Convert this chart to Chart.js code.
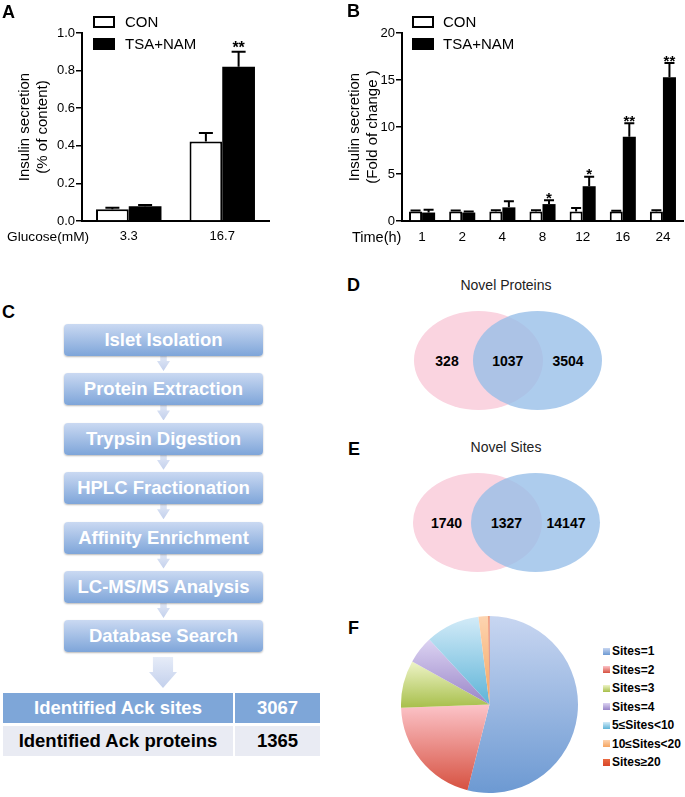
<!doctype html>
<html>
<head>
<meta charset="utf-8">
<title>Insulin secretion · acetylome</title>
<script src="https://cdn.jsdelivr.net/npm/chart.js@4.4.1/dist/chart.umd.min.js"></script>
<style>
  body { margin:0; background:#fff; font-family:"Liberation Sans", Arial, Helvetica, sans-serif; color:#000; }
  #fig { position:relative; width:685px; height:797px; overflow:hidden; }
  #fig > * { position:absolute; }
  .tag { font-weight:bold; font-size:18px; line-height:18px; }
  .swatch { box-sizing:border-box; width:22px; height:12px; border:2px solid #000; }
  .flow { box-sizing:border-box; width:199px; height:32px; border-radius:4px; color:#fff; font-weight:bold;
          font-size:18.5px; line-height:32px; text-align:center; white-space:nowrap;
          background:linear-gradient(#cad9f2, #7ea5d9); box-shadow:0 1px 2px rgba(0,0,0,.28); z-index:2; }
  .mini { width:13px; height:18px; background:linear-gradient(#e6ecf8, #c3d0ec); z-index:1;
          clip-path:polygon(25% 0, 75% 0, 75% 45%, 100% 45%, 50% 100%, 0 45%, 25% 45%); }
  .cell { box-sizing:border-box; height:30px; line-height:30px; text-align:center; font-weight:bold; font-size:18.5px; white-space:nowrap; }
  .ell { border-radius:50%; }
  .num { width:80px; text-align:center; font-weight:bold; font-size:14px; line-height:20px; }
</style>
</head>
<body>
<div id="fig">
  <canvas id="chartA" width="290" height="262" style="left:0;top:0"></canvas>
  <canvas id="chartB" width="355" height="262" style="left:330px;top:0"></canvas>
  <canvas id="chartF" width="177" height="177" style="left:401px;top:616px"></canvas>
</div>
<script>
// panel A: glucose stimulated insulin secretion
const glucoseLabels = ['3.3', '16.7'];
const conA = [0.063, 0.423];
const conAErr = [0.007, 0.045];
const tsaA = [0.078, 0.82];
const tsaAErr = [0.007, 0.08];
const starsA = ['', '**'];

// panel B: time course (fold of change)
const timeLabels = ['1', '2', '4', '8', '12', '16', '24'];
const conB = [1.0, 1.0, 1.0, 1.0, 1.0, 1.0, 1.0];
const conBErr = [0.12, 0.12, 0.15, 0.15, 0.38, 0.1, 0.15];
const tsaB = [0.9, 0.9, 1.45, 1.8, 3.7, 8.95, 15.3];
const tsaBErr = [0.3, 0.1, 0.65, 0.4, 1.0, 1.45, 1.5];
const starsB = ['', '', '', '*', '*', '**', '**'];

// panel C: workflow
const flowSteps = ['Islet Isolation', 'Protein Extraction', 'Trypsin Digestion', 'HPLC Fractionation',
                   'Affinity Enrichment', 'LC-MS/MS Analysis', 'Database Search'];
const tableNames = ['Identified Ack sites', 'Identified Ack proteins'];
const tableCounts = [3067, 1365];

// panels D, E: overlap with known data
const vennTitles = ['Novel Proteins', 'Novel Sites'];
const vennOnlyOurs = [328, 1740];
const vennShared = [1037, 1327];
const vennOnlyKnown = [3504, 14147];

// panel F: sites per protein (%)
const siteLabels = ['Sites=1', 'Sites=2', 'Sites=3', 'Sites=4', '5≤Sites<10', '10≤Sites<20', 'Sites≥20'];
const siteShares = [54.0, 20.4, 8.7, 5.0, 9.9, 1.8, 0.2];
const siteColors = [['#c8d6f1', '#6c99d2'], ['#fcc4c9', '#d6503f'], ['#eef4c8', '#a6be48'], ['#dcd3f2', '#9884c7'],
                    ['#d3ebf8', '#5cb3d7'], ['#fdd4b0', '#f5a460'], ['#ea6a40', '#d8452a']];

Chart.defaults.font.family = '"Liberation Sans", Arial, Helvetica, sans-serif';
Chart.defaults.color = '#000';

const fig = document.getElementById('fig');
function put(html, css, cls) {
  const d = document.createElement('div');
  if (cls) d.className = cls;
  d.innerHTML = html;
  Object.assign(d.style, css);
  fig.appendChild(d);
  return d;
}
const px = v => v + 'px';

// error bars + significance stars, drawn from the y scale
const errorBars = {
  id: 'errorBars',
  afterDatasetsDraw(chart, args, opts) {
    const { ctx } = chart;
    const y = chart.scales.y;
    chart.data.datasets.forEach((ds, i) => {
      chart.getDatasetMeta(i).data.forEach((bar, j) => {
        const top = y.getPixelForValue(ds.data[j] + ds.errors[j]);
        ctx.save();
        ctx.strokeStyle = '#000';
        ctx.lineWidth = 2;
        ctx.beginPath();
        ctx.moveTo(bar.x, bar.y);
        ctx.lineTo(bar.x, top);
        ctx.moveTo(bar.x - opts.cap / 2, top);
        ctx.lineTo(bar.x + opts.cap / 2, top);
        ctx.stroke();
        if (ds.stars && ds.stars[j]) {
          ctx.fillStyle = '#000';
          ctx.font = 'bold ' + opts.fs + 'px ' + Chart.defaults.font.family;
          ctx.textAlign = 'center';
          ctx.textBaseline = 'alphabetic';
          ctx.fillText(ds.stars[j], bar.x, top - opts.gap + 0.575 * opts.fs);
        }
        ctx.restore();
      });
    });
  }
};

function barChart(id, labels, con, conErr, tsa, tsaErr, stars, cfg) {
  return new Chart(document.getElementById(id), {
    type: 'bar',
    data: {
      labels,
      datasets: [
        { label: 'CON', data: con, errors: conErr, backgroundColor: '#fff', borderColor: '#000', borderWidth: 2 },
        { label: 'TSA+NAM', data: tsa, errors: tsaErr, stars, backgroundColor: '#000', borderWidth: 0 }
      ]
    },
    options: {
      responsive: false,
      animation: false,
      layout: { padding: { top: 33, right: cfg.right, left: 0, bottom: 0 } },
      datasets: { bar: { categoryPercentage: cfg.cat, barPercentage: 1 } },
      plugins: { legend: { display: false }, tooltip: { enabled: false },
                 errorBars: { cap: cfg.cap, gap: cfg.gap, fs: cfg.sfs } },
      scales: {
        x: {
          grid: { display: false, drawTicks: false },
          border: { color: '#000', width: 2 },
          ticks: { font: { size: cfg.xfs }, padding: 8 },
          afterFit: s => { s.height = 41; }
        },
        y: {
          min: 0, max: cfg.max,
          ticks: { stepSize: cfg.step, font: { size: 13 }, padding: 1, callback: cfg.fmt },
          grid: { drawOnChartArea: false, tickLength: 6, color: '#000', lineWidth: 1.5 },
          border: { color: '#000', width: 2 },
          title: { display: true, text: cfg.title, font: { size: 15, lineHeight: 1.2 }, padding: { top: 16, bottom: 0 } },
          afterFit: s => { s.width = cfg.yw; }
        }
      }
    },
    plugins: [errorBars]
  });
}

barChart('chartA', glucoseLabels, conA, conAErr, tsaA, tsaAErr, starsA, {
  right: 21, cat: 0.7, cap: 14, gap: 8.5, sfs: 16, xfs: 13, max: 1, step: 0.2, yw: 82,
  fmt: v => v.toFixed(1), title: ['Insulin secretion', '(% of content)']
});
barChart('chartB', timeLabels, conB, conBErr, tsaB, tsaBErr, starsB, {
  right: 2, cat: 0.65, cap: 10, gap: 6, sfs: 15, xfs: 13.5, max: 20, step: 5, yw: 72,
  fmt: v => v, title: ['Insulin secretion', '(Fold of change )']
});

// legends + axis captions for A and B
[[93, 125], [412, 443]].forEach(([bx, tx]) => {
  put('', { left: px(bx), top: px(16), background: '#fff' }, 'swatch');
  put('', { left: px(bx), top: px(38), background: '#000' }, 'swatch');
  put('CON', { left: px(tx), top: px(12), fontSize: '15px', lineHeight: '20px' });
  put('TSA+NAM', { left: px(tx), top: px(34), fontSize: '15px', lineHeight: '20px' });
});
put('Glucose(mM)', { left: '7px', top: '228px', fontSize: '13.7px', lineHeight: '18px' });
put('Time(h)', { left: '352px', top: '228px', fontSize: '14.5px', lineHeight: '18px' });

// panel tags
[['A', 2, 3], ['B', 347, 2], ['C', 2, 303], ['D', 347, 276], ['E', 348, 440], ['F', 348, 619]]
  .forEach(([t, x, y]) => put(t, { left: px(x), top: px(y) }, 'tag'));

// panel C flow
flowSteps.forEach((s, i) => {
  const top = 324 + i * 49.4;
  put(s, { left: '64px', top: px(top) }, 'flow');
  if (i < flowSteps.length - 1) put('', { left: '157px', top: px(top + 29) }, 'mini');
});
put('', { left: '149px', top: '657px', width: '28px', height: '31px', background: 'linear-gradient(#e6ecf8, #c3d0ec)',
  clipPath: 'polygon(14% 0, 86% 0, 86% 48%, 100% 48%, 50% 100%, 0 48%, 14% 48%)' });
tableNames.forEach((n, i) => {
  const top = 693 + i * 33;
  const bg = i === 0 ? '#7ea6d8' : '#e9ebf3';
  const fg = i === 0 ? '#fff' : '#000';
  put(n, { left: '3px', top: px(top), width: '230px', background: bg, color: fg }, 'cell');
  put(String(tableCounts[i]), { left: '235px', top: px(top), width: '85px', background: bg, color: fg }, 'cell');
});

// panels D and E venns
[{ cy: 360, ty: 285, xs: [478, 537.5] }, { cy: 522, ty: 447, xs: [477.5, 535.5] }].forEach((g, i) => {
  put(vennTitles[i], { left: '406px', width: '200px', top: px(g.ty - 10), lineHeight: '20px', textAlign: 'center',
    fontSize: '14px', color: '#222' });
  put('', { left: px(g.xs[0] - 64.5), top: px(g.cy - 49.5), width: '129px', height: '99px', background: 'rgb(250,212,224)' }, 'ell');
  put('', { left: px(g.xs[1] - 64.5), top: px(g.cy - 49.5), width: '129px', height: '99px', background: 'rgba(150,190,232,0.78)' }, 'ell');
  const nx = [g.xs[0] - 31, (g.xs[0] + g.xs[1]) / 2, g.xs[1] + 30.5];
  [vennOnlyOurs[i], vennShared[i], vennOnlyKnown[i]].forEach((v, k) =>
    put(String(v), { left: px(nx[k] - 40), top: px(g.cy - 9) }, 'num'));
});

// panel F pie with per-slice vertical gradients
function sliceFill(c) {
  const chart = c.chart, area = chart.chartArea;
  const pair = siteColors[c.dataIndex];
  if (!area) return pair[1];
  const cx = (area.left + area.right) / 2, cy = (area.top + area.bottom) / 2;
  const r = Math.min(area.right - area.left, area.bottom - area.top) / 2;
  const total = siteShares.reduce((a, b) => a + b, 0);
  let cum = 0;
  for (let k = 0; k < c.dataIndex; k++) cum += siteShares[k];
  const a0 = -Math.PI / 2 + 2 * Math.PI * cum / total;
  const a1 = a0 + 2 * Math.PI * siteShares[c.dataIndex] / total;
  const ys = [cy, cy + r * Math.sin(a0), cy + r * Math.sin(a1)];
  [Math.PI / 2, 3 * Math.PI / 2].forEach(a => { if (a >= a0 && a <= a1) ys.push(cy + r * Math.sin(a)); });
  const g = chart.ctx.createLinearGradient(0, Math.min(...ys), 0, Math.max(...ys) + 1);
  g.addColorStop(0, pair[0]);
  g.addColorStop(1, pair[1]);
  return g;
}
new Chart(document.getElementById('chartF'), {
  type: 'pie',
  data: { labels: siteLabels, datasets: [{ data: siteShares, backgroundColor: sliceFill, borderWidth: 0 }] },
  options: { responsive: false, animation: false, layout: { padding: 0 },
    plugins: { legend: { display: false }, tooltip: { enabled: false } } }
});
siteLabels.forEach((l, i) => {
  const cy = 651 + i * 18.5;
  put('', { left: '603px', top: px(cy - 3.5), width: '7px', height: '7px',
    background: 'linear-gradient(' + siteColors[i][0] + ',' + siteColors[i][1] + ')' });
  put(l, { left: '612px', top: px(cy - 9), fontSize: '12px', lineHeight: '18px', fontWeight: 'bold' });
});
</script>
</body>
</html>
